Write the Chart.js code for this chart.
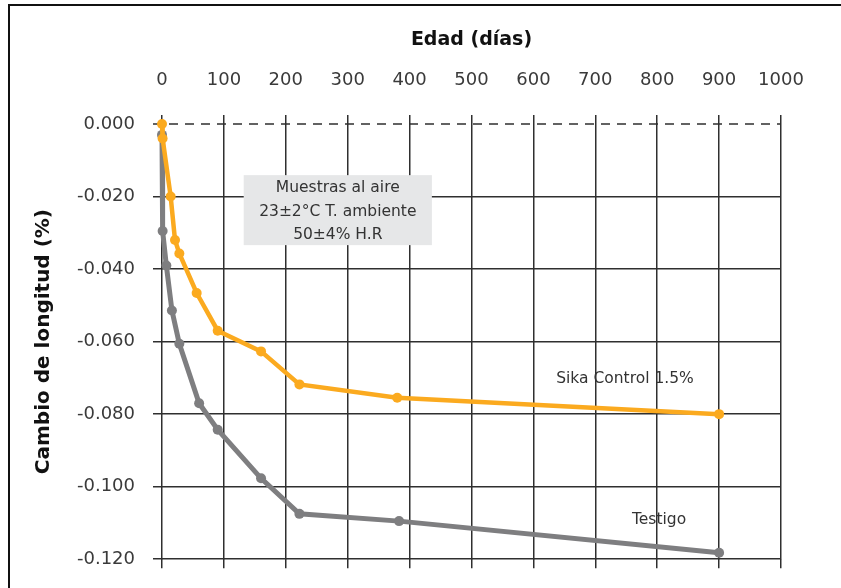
<!DOCTYPE html>
<html>
<head>
<meta charset="utf-8">
<title>Cambio de longitud</title>
<script src="https://cdn.jsdelivr.net/npm/chart.js@4"></script>
<style>
  html, body { margin: 0; padding: 0; background: #fff; }
  #holder { width: 841px; height: 588px; }
</style>
</head>
<body>
<div id="holder">
  <canvas id="lencanvas" width="841" height="588"></canvas>
</div>
<script>
// ages in days and length change (%)
var sikaDays = [0, 1, 14, 21, 28, 56, 90, 160, 222, 380, 900];
var sikaValues = [0.000, -0.004, -0.020, -0.032, -0.0357, -0.0466, -0.057, -0.0627, -0.0718, -0.0755, -0.0800];
var testigoDays = [0, 1, 7, 16, 28, 60, 90, 160, 222, 383, 900];
var testigoValues = [-0.003, -0.0295, -0.039, -0.0514, -0.0606, -0.077, -0.0843, -0.0977, -0.1075, -0.1095, -0.1182];
var xTicks = [0, 100, 200, 300, 400, 500, 600, 700, 800, 900, 1000];
var yTicks = [0, -0.02, -0.04, -0.06, -0.08, -0.10, -0.12];
var noteLines = ['Muestras al aire', '23±2°C T. ambiente', '50±4% H.R'];

var FONT = 'DejaVu Sans';
var gridColor = '#2f2f2f';

function toPoints(days, vals) {
    var out = [];
    for (var i = 0; i < days.length; i++) out.push({x: days[i], y: vals[i]});
    return out;
}

var decorations = {
    id: 'decorations',
    beforeDraw: function(chart) {
        var c = chart.ctx;
        c.save();
        c.strokeStyle = '#111';
        c.lineWidth = 2;
        c.strokeRect(9, 5, 900, 700);
        c.restore();
    },
    beforeDatasetsDraw: function(chart) {
        var c = chart.ctx, x = chart.scales.x, y = chart.scales.y;
        var area = chart.chartArea;
        c.save();
        // dashed zero line
        var y0 = y.getPixelForValue(0);
        c.strokeStyle = gridColor;
        c.lineWidth = 1.5;
        c.setLineDash([9, 7]);
        c.beginPath();
        c.moveTo(area.left - 9, y0);
        c.lineTo(area.right, y0);
        c.stroke();
        c.setLineDash([]);
        // note box
        var bx1 = x.getPixelForValue(132), bx2 = x.getPixelForValue(436);
        var by1 = y.getPixelForValue(-0.0141), by2 = y.getPixelForValue(-0.0334);
        c.fillStyle = '#e6e7e8';
        c.fillRect(bx1, by1, bx2 - bx1, by2 - by1);
        c.fillStyle = '#333';
        c.font = '15.5px "' + FONT + '"';
        c.textAlign = 'center';
        c.textBaseline = 'middle';
        var cx = (bx1 + bx2) / 2;
        for (var i = 0; i < noteLines.length; i++) {
            c.fillText(noteLines[i], cx, by1 + 13 + i * 23.5);
        }
        // series labels
        c.fillText('Sika Control 1.5%', x.getPixelForValue(748), y.getPixelForValue(-0.0702));
        c.fillText('Testigo', x.getPixelForValue(803), y.getPixelForValue(-0.1093));
        c.restore();
    }
};

var config = {
    type: 'line',
    data: {
        datasets: [{
            label: 'Sika Control 1.5%',
            data: toPoints(sikaDays, sikaValues),
            borderColor: '#fbaa1f',
            backgroundColor: '#fbaa1f',
            borderWidth: 4.5,
            pointRadius: 5,
            pointBorderWidth: 0,
            tension: 0,
            clip: false
        }, {
            label: 'Testigo',
            data: toPoints(testigoDays, testigoValues),
            borderColor: '#7e7e80',
            backgroundColor: '#7e7e80',
            borderWidth: 5,
            pointRadius: 5,
            pointBorderWidth: 0,
            tension: 0,
            clip: false
        }]
    },
    options: {
        responsive: false,
        animation: false,
        layout: { padding: { top: 10, left: 10, right: 60, bottom: 0 } },
        plugins: {
            legend: { display: false },
            tooltip: { enabled: false }
        },
        scales: {
            x: {
                type: 'linear',
                position: 'top',
                min: 0,
                max: 1000,
                afterBuildTicks: function(s) { s.ticks = xTicks.map(function(v) { return {value: v}; }); },
                afterFit: function(s) { s.height = 114; },
                title: {
                    display: true,
                    text: 'Edad (días)',
                    color: '#111',
                    font: { family: FONT, size: 19, weight: 'bold' },
                    padding: { top: 19, bottom: 0 }
                },
                ticks: {
                    color: '#3a3a3a',
                    padding: 24,
                    maxRotation: 0,
                    font: { family: FONT, size: 18 },
                    callback: function(v) { return String(v); }
                },
                grid: { color: gridColor, lineWidth: 1.5, tickLength: 9 },
                border: { display: false }
            },
            x2: {
                type: 'linear',
                position: 'bottom',
                min: 0,
                max: 1000,
                afterBuildTicks: function(s) { s.ticks = xTicks.map(function(v) { return {value: v}; }); },
                afterFit: function(s) { s.height = 23; },
                ticks: { display: false },
                grid: { color: gridColor, lineWidth: 1.5, tickLength: 9, drawOnChartArea: false },
                border: { display: false }
            },
            y: {
                type: 'linear',
                min: -0.12,
                max: 0,
                afterBuildTicks: function(s) { s.ticks = yTicks.map(function(v) { return {value: v}; }); },
                afterFit: function(s) { s.width = 152; },
                title: {
                    display: true,
                    text: 'Cambio de longitud (%)',
                    color: '#111',
                    font: { family: FONT, size: 20, weight: 'bold' },
                    padding: { top: 22, bottom: 0 }
                },
                ticks: {
                    color: '#3a3a3a',
                    padding: 18,
                    font: { family: FONT, size: 18 },
                    callback: function(v) { return Number(v).toFixed(3); }
                },
                grid: {
                    color: function(ctx) { return (ctx.tick && ctx.tick.value === 0) ? 'rgba(0,0,0,0)' : gridColor; },
                    lineWidth: 1.5,
                    tickLength: 9
                },
                border: { display: false }
            }
        }
    },
    plugins: [decorations]
};

var ctx = document.getElementById('lencanvas').getContext('2d');
window.lenChart = new Chart(ctx, config);
</script>
</body>
</html>
